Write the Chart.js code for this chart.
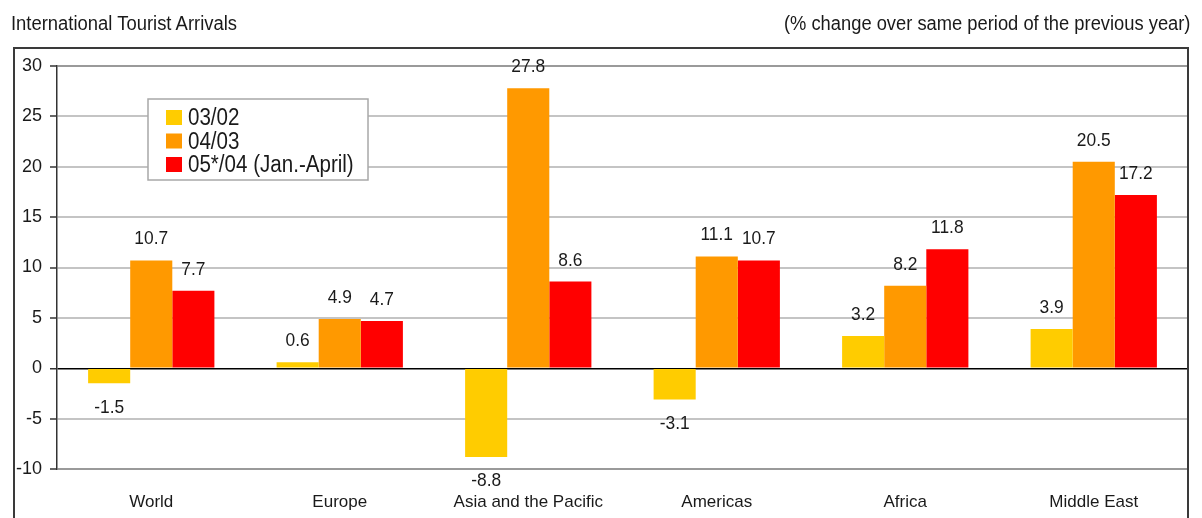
<!DOCTYPE html>
<html>
<head>
<meta charset="utf-8">
<script src="https://cdn.jsdelivr.net/npm/chart.js@4"></script>
<style>
  html, body { margin: 0; padding: 0; background: #fff; }
  #wrap { position: relative; width: 1202px; height: 518px; overflow: hidden; }
  #chart { position: absolute; left: 0; top: 0; }
  .head { position: absolute; top: 13px; font-family: 'Liberation Sans', Arial, sans-serif; font-size: 19.5px; line-height: 20px; color: #1a1a1a; white-space: nowrap; }
  #title { left: 11px; transform: scaleX(0.945); transform-origin: left center; }
  #note { right: 12px; transform: scaleX(0.94); transform-origin: right center; }
</style>
</head>
<body>
<div id="wrap">
  <canvas id="chart" width="1202" height="518"></canvas>
  <div class="head" id="title">International Tourist Arrivals</div>
  <div class="head" id="note">(% change over same period of the previous year)</div>
</div>
<script>
// Regions and year-on-year change in arrivals (%)
const regions = ['World', 'Europe', 'Asia and the Pacific', 'Americas', 'Africa', 'Middle East'];
const change0302 = [-1.5, 0.6, -8.8, -3.1, 3.2, 3.9];
const change0403 = [10.7, 4.9, 27.8, 11.1, 8.2, 20.5];
const change0504 = [7.7, 4.7, 8.6, 10.7, 11.8, 17.2];
const seriesLabels = ['03/02', '04/03', '05*/04 (Jan.-April)'];
const seriesColors = ['#FFCC00', '#FF9900', '#FF0000'];
const yTicks = [-10, -5, 0, 5, 10, 15, 20, 25, 30];

const FONT = "'Liberation Sans', Arial, sans-serif";
const TEXT = '#1a1a1a';

// Slightly condensed text drawn straight onto the canvas
function narrowText(ctx, txt, x, y, size, squeeze, align) {
  ctx.save();
  ctx.translate(x, y);
  ctx.scale(squeeze, 1);
  ctx.font = size + 'px ' + FONT;
  ctx.textAlign = align;
  ctx.textBaseline = 'alphabetic';
  ctx.fillText(txt, 0, 0);
  ctx.restore();
}

// Outer frame around the plot
const framePlugin = {
  id: 'frame',
  afterDraw(chart) {
    const ctx = chart.ctx;
    ctx.save();
    ctx.strokeStyle = '#3a3a3a';
    ctx.lineWidth = 2;
    ctx.strokeRect(14, 48, 1174, 480);
    ctx.restore();
  }
};

// Value labels above positive bars and below negative ones
const valueLabels = {
  id: 'valueLabels',
  afterDatasetsDraw(chart) {
    const ctx = chart.ctx;
    const size = 18.6;
    ctx.save();
    ctx.fillStyle = TEXT;
    chart.data.datasets.forEach((ds, di) => {
      chart.getDatasetMeta(di).data.forEach((bar, i) => {
        const v = ds.data[i];
        const txt = v.toFixed(1);
        const y = v >= 0 ? bar.y - 16 : bar.y + 16 + size * 0.716;
        narrowText(ctx, txt, bar.x, y, size, 0.935, 'center');
      });
    });
    ctx.restore();
  }
};

// Boxed legend inside the plot area
const boxLegend = {
  id: 'boxLegend',
  afterDraw(chart) {
    const ctx = chart.ctx;
    const x0 = 148, y0 = 99, w = 220, h = 81;
    ctx.save();
    ctx.fillStyle = '#fff';
    ctx.fillRect(x0, y0, w, h);
    ctx.strokeStyle = '#a8a8a8';
    ctx.lineWidth = 1.5;
    ctx.strokeRect(x0, y0, w, h);
    chart.data.datasets.forEach((ds, i) => {
      const sy = 110 + i * 23.5;
      ctx.fillStyle = ds.backgroundColor;
      ctx.fillRect(166, sy, 16, 15);
      ctx.fillStyle = TEXT;
      narrowText(ctx, ds.label, 188, sy + 15, 23.5, 0.875, 'left');
    });
    ctx.restore();
  }
};

const datasets = [change0302, change0403, change0504].map((vals, i) => ({
  label: seriesLabels[i],
  data: vals,
  backgroundColor: seriesColors[i],
  borderWidth: 0,
  barPercentage: 1.0,
  categoryPercentage: 0.67
}));

new Chart(document.getElementById('chart'), {
  type: 'bar',
  data: { labels: regions, datasets },
  options: {
    responsive: false,
    animation: false,
    layout: { padding: { left: 0, top: 66, right: 14, bottom: 0 } },
    plugins: {
      legend: { display: false },
      tooltip: { enabled: false }
    },
    scales: {
      x: {
        grid: { display: false, drawTicks: false },
        border: { display: false },
        ticks: { color: TEXT, font: { family: FONT, size: 17 }, padding: 23, maxRotation: 0 },
        afterFit(scale) { scale.height = 49; }
      },
      y: {
        min: -10,
        max: 30,
        afterBuildTicks(scale) { scale.ticks = yTicks.map(v => ({ value: v })); },
        grid: {
          color: ctx => {
            const v = ctx.tick && ctx.tick.value;
            if (v === 0) return '#000';
            if (v === 30 || v === -10) return '#9a9a9a';
            return '#c4c4c4';
          },
          lineWidth: ctx => (ctx.tick && ctx.tick.value === 0) ? 1.5 : 2,
          tickColor: '#333',
          tickLength: 7,
          tickWidth: 1.5
        },
        border: { display: true, color: '#333', width: 1.5 },
        ticks: { color: TEXT, font: { family: FONT, size: 18 }, padding: 8 },
        afterFit(scale) { scale.width = 57; }
      }
    }
  },
  plugins: [valueLabels, boxLegend, framePlugin]
});
</script>
</body>
</html>
